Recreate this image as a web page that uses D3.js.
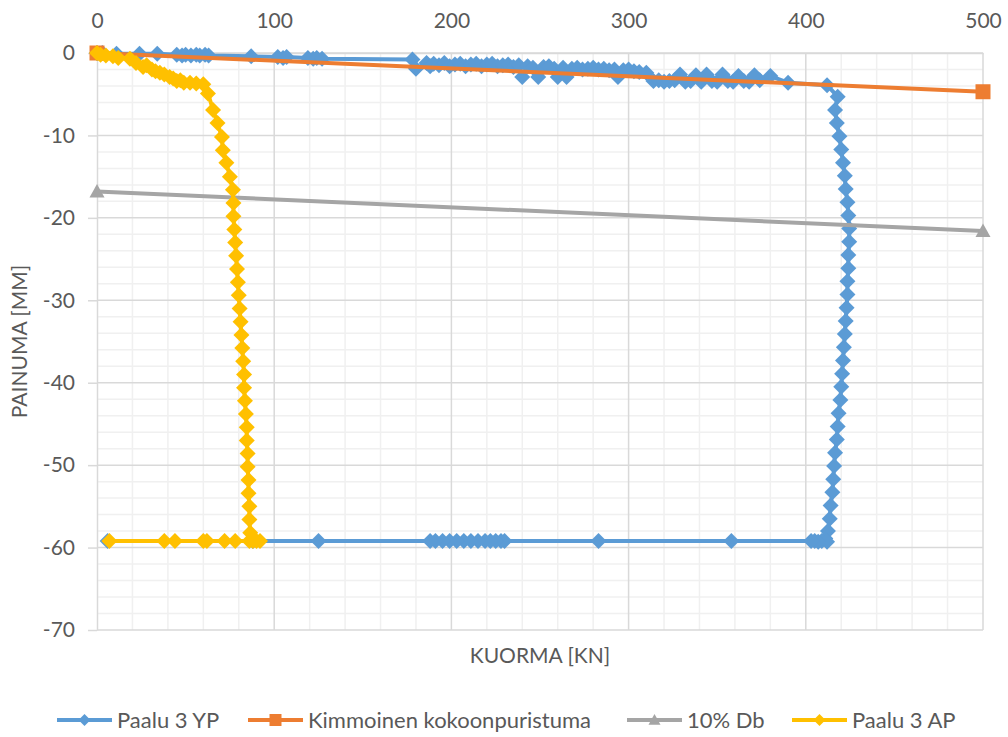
<!DOCTYPE html>
<html>
<head>
<meta charset="utf-8">
<script src="https://cdnjs.cloudflare.com/ajax/libs/d3/7.8.5/d3.min.js"></script>
<style>
  body { margin: 0; background: #fff; }
  text { font-family: Lato, "Liberation Sans", sans-serif; fill: #595959; }
</style>
</head>
<body>
<div id="my_dataviz"></div>
<script>

// series data: [kuorma kN, painuma mm]
var paalu3YP = [
    [0, 0], [3, 0], [11, -0.1], [24, -0.1], [34, -0.1], [45, -0.2], [48, -0.3], [50, -0.2], [53, -0.3],
    [56, -0.2], [58, -0.3], [61, -0.2], [63, -0.3], [87, -0.4], [102, -0.5], [105, -0.6], [107, -0.5],
    [119, -0.6], [122, -0.7], [124, -0.6], [127, -0.7], [178, -0.8], [180, -1.9], [186, -1.2], [188, -1.6],
    [190, -1.3], [193, -1.5], [196, -1.2], [199, -1.6], [202, -1.4], [205, -1.3], [208, -1.6], [211, -1.4],
    [214, -1.3], [217, -1.6], [220, -1.4], [223, -1.3], [226, -1.6], [229, -1.5], [232, -1.4], [235, -1.7],
    [238, -1.5], [240, -2.9], [243, -1.6], [246, -1.8], [249, -2.9], [252, -1.7], [255, -1.6], [258, -1.9],
    [260, -2.9], [263, -1.8], [265, -2.9], [268, -1.9], [271, -1.8], [274, -2.0], [277, -1.9], [280, -1.8],
    [283, -2.0], [286, -1.9], [289, -2.1], [292, -2.0], [294, -2.9], [297, -2.1], [300, -2.0], [303, -2.2],
    [306, -2.3], [310, -2.4], [314, -3.4], [317, -3.3], [320, -3.5], [323, -3.4], [326, -3.3], [329, -2.6],
    [332, -3.5], [335, -3.4], [338, -2.7], [341, -3.5], [344, -2.6], [347, -3.4], [350, -3.5], [353, -2.6],
    [356, -3.4], [359, -3.5], [362, -2.8], [365, -3.4], [368, -3.5], [371, -2.7], [374, -3.3], [380, -2.8],
    [390, -3.6], [412, -3.9], [418, -5.3], [416.5, -6.9], [417.5, -8.5], [419, -10.1], [420, -11.7],
    [421, -13.3], [422, -14.9], [422.5, -16.5], [423.5, -18.1], [424, -19.7], [424.5, -21.3], [424.5, -22.9],
    [424, -24.5], [424, -26.1], [423.5, -27.7], [423.5, -29.3], [423, -30.9], [422.5, -32.5], [422, -34.1],
    [421.5, -35.7], [421, -37.3], [420.5, -38.9], [420, -40.5], [419.5, -42.1], [418.5, -43.7], [418, -45.3],
    [417.5, -46.9], [416.5, -48.5], [416, -50.1], [415.5, -51.7], [415, -53.3], [414, -54.9], [413.5, -56.5],
    [412.5, -58.0], [411, -58.9], [409, -59.2], [412, -59.3], [405, -59.2], [407, -59.3], [403, -59.2],
    [358, -59.2], [283, -59.2], [230, -59.2], [228, -59.2], [225, -59.2], [222, -59.2], [219, -59.2],
    [215, -59.2], [211, -59.2], [207, -59.2], [203, -59.2], [199, -59.2], [195, -59.2], [191, -59.2],
    [188, -59.2], [125, -59.2], [88, -59.2], [6, -59.2]
];

var kimmoinen = [[0, 0], [500, -4.7]];

var db10 = [[0, -16.8], [500, -21.6]];

var paalu3AP = [
    [0, 0], [2, -0.2], [5, -0.3], [9, -0.4], [12, -0.6], [18.6, -0.7], [22, -1.2], [26, -1.7], [28, -1.5],
    [31, -2.0], [33, -2.2], [35.5, -2.4], [38, -2.6], [41, -2.9], [43, -3.1], [45, -3.4], [47, -3.3],
    [49, -3.6], [52.5, -3.6], [56, -3.7], [60, -3.8], [62.6, -4.9], [65.5, -6.9], [68, -8.5], [70.5, -10.2],
    [71, -11.8], [73, -13.3], [75, -15.0], [76.7, -16.6], [77, -18.2], [77, -19.8], [77.5, -21.4], [78, -23.0],
    [78.5, -24.6], [79, -26.2], [79.5, -27.8], [80, -29.4], [80.5, -31.0], [81, -32.6], [81.5, -34.2],
    [82, -35.8], [82.5, -37.4], [83, -39.0], [83, -40.6], [83.5, -42.2], [84, -43.8], [84.5, -45.4],
    [84.5, -47.0], [85, -48.6], [85, -50.2], [85.5, -51.8], [85.5, -53.4], [86, -55.0], [86, -56.6],
    [86.5, -58.2], [88, -59.2], [90, -59.2], [92, -59.2], [86, -59.2], [78, -59.2], [72, -59.2],
    [62, -59.2], [60, -59.2], [44, -59.2], [38, -59.2], [7, -59.2]
];

var seriesNames = ["Paalu 3 YP", "Kimmoinen kokoonpuristuma", "10% Db", "Paalu 3 AP"];
var seriesColors = ["#5B9BD5", "#ED7D31", "#A5A5A5", "#FFC000"];
var seriesMarkers = ["diamond", "square", "triangle", "diamond"];
var seriesData = [paalu3YP, kimmoinen, db10, paalu3AP];

var xTicks = [0, 100, 200, 300, 400, 500];
var yTicks = [0, -10, -20, -30, -40, -50, -60, -70];

var xTitle = "KUORMA [KN]";
var yTitle = "PAINUMA [MM]";

// legend x positions (line start)
var legendX = [57, 248, 627, 792];

function markerPath(type, s) {
    if (type == "square") return "M" + -s + "," + -s + "H" + s + "V" + s + "H" + -s + "Z";
    if (type == "triangle") return "M0," + (-s) + "L" + s + "," + (s * 0.8) + "L" + (-s) + "," + (s * 0.8) + "Z";
    return "M0," + (-s) + "L" + s + ",0L0," + s + "L" + (-s) + ",0Z";
}

var margin = { top: 53, right: 25, bottom: 107, left: 97 },
    width = 1008 - margin.left - margin.right,
    height = 737 - margin.top - margin.bottom;

var svg = d3.select("#my_dataviz")
    .append("svg")
    .attr("width", 1008)
    .attr("height", 737);

var chart = svg.append("g")
    .attr("transform", "translate(" + margin.left + "," + margin.top + ")");

var x = d3.scaleLinear()
    .domain([0, 500])
    .range([0, width]);

var y = d3.scaleLinear()
    .domain([-70, 0])
    .range([height, 0]);

// minor grid
chart.append("g")
    .selectAll("line")
    .data(d3.range(20, 500, 20).filter(function (d) { return d % 100 != 0; }))
    .enter().append("line")
    .attr("x1", function (d) { return x(d); })
    .attr("x2", function (d) { return x(d); })
    .attr("y1", 0).attr("y2", height)
    .style("stroke", "#f0f0f0").style("stroke-width", 1.5);

chart.append("g")
    .selectAll("line")
    .data(d3.range(-68, 0, 2).filter(function (d) { return d % 10 != 0; }))
    .enter().append("line")
    .attr("y1", function (d) { return y(d); })
    .attr("y2", function (d) { return y(d); })
    .attr("x1", 0).attr("x2", width)
    .style("stroke", "#f0f0f0").style("stroke-width", 1.5);

// major grid
chart.append("g")
    .selectAll("line")
    .data(xTicks.slice(1))
    .enter().append("line")
    .attr("x1", function (d) { return x(d); })
    .attr("x2", function (d) { return x(d); })
    .attr("y1", 0).attr("y2", height)
    .style("stroke", "#d9d9d9").style("stroke-width", 1.5);

chart.append("g")
    .selectAll("line")
    .data(yTicks)
    .enter().append("line")
    .attr("y1", function (d) { return y(d); })
    .attr("y2", function (d) { return y(d); })
    .attr("x1", 0).attr("x2", width)
    .style("stroke", "#d9d9d9").style("stroke-width", 1.5);

// Y axis on the left, with outward ticks (plain hyphen for minus)
var yAxis = chart.append("g")
    .call(d3.axisLeft(y).tickValues(yTicks).tickFormat(function (d) { return String(d); })
        .tickSizeInner(9).tickSizeOuter(0).tickPadding(13));
yAxis.select(".domain").style("stroke", "#d9d9d9").style("stroke-width", 1.5);
yAxis.selectAll(".tick line").style("stroke", "#d9d9d9").style("stroke-width", 1.5);
yAxis.selectAll("text").style("font-size", "21px").style("font-family", "Lato, sans-serif").attr("fill", "#595959");

// X axis labels on top
var xAxis = chart.append("g")
    .call(d3.axisTop(x).tickValues(xTicks).tickSize(0).tickPadding(25));
xAxis.select(".domain").style("stroke", "#d9d9d9").style("stroke-width", 1.5);
xAxis.selectAll("text").style("font-size", "21px").style("font-family", "Lato, sans-serif").attr("fill", "#595959");

// axis titles
svg.append("text")
    .attr("x", margin.left + width / 2)
    .attr("y", 663)
    .attr("text-anchor", "middle")
    .style("font-size", "21px")
    .text(xTitle);

svg.append("text")
    .attr("transform", "translate(27," + (margin.top + height / 2) + ") rotate(-90)")
    .attr("text-anchor", "middle")
    .style("font-size", "21px")
    .text(yTitle);

// series lines and markers
var line = d3.line()
    .x(function (d) { return x(d[0]); })
    .y(function (d) { return y(d[1]); });

seriesData.forEach(function (data, i) {
    var g = chart.append("g");
    g.append("path")
        .datum(data)
        .attr("d", line)
        .style("fill", "none")
        .style("stroke", seriesColors[i])
        .style("stroke-width", 4)
        .style("stroke-linejoin", "round");
    var size = seriesMarkers[i] == "diamond" ? 8 : 7.5;
    g.selectAll(".marker")
        .data(data)
        .enter()
        .append("path")
        .attr("class", "marker")
        .attr("transform", function (d) { return "translate(" + x(d[0]) + "," + y(d[1]) + ")"; })
        .attr("d", markerPath(seriesMarkers[i], size))
        .style("fill", seriesColors[i]);
});

// legend
var legend = svg.append("g")
    .selectAll("g")
    .data(seriesNames)
    .enter()
    .append("g")
    .attr("transform", function (d, i) { return "translate(" + legendX[i] + ",720)"; });

legend.append("line")
    .attr("x1", 0).attr("x2", 55)
    .attr("y1", 0).attr("y2", 0)
    .style("stroke", function (d, i) { return seriesColors[i]; })
    .style("stroke-width", 4);

legend.append("path")
    .attr("transform", "translate(27.5,0)")
    .attr("d", function (d, i) { return markerPath(seriesMarkers[i], 6); })
    .style("fill", function (d, i) { return seriesColors[i]; });

legend.append("text")
    .attr("x", 60)
    .attr("y", 0)
    .attr("dy", "0.35em")
    .style("font-size", "22px")
    .text(function (d) { return d; });

</script>
</body>
</html>
